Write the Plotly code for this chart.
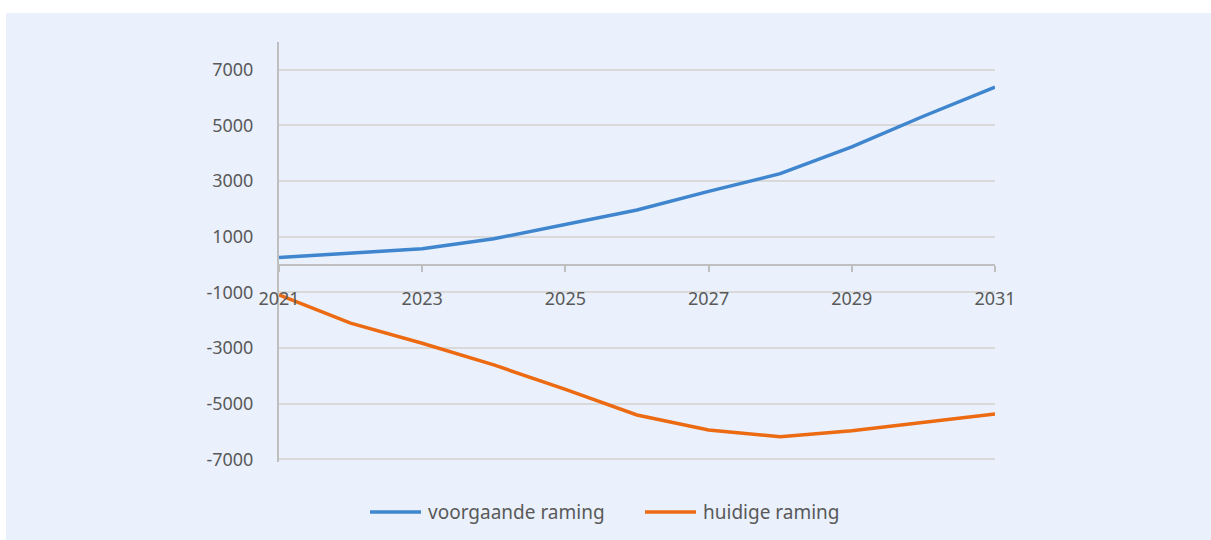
import plotly.graph_objects as go

years = [2021, 2022, 2023, 2024, 2025, 2026, 2027, 2028, 2029, 2030, 2031]
voorgaande = [252, 410, 565, 925, 1455, 1960, 2630, 3265, 4227, 5330, 6375]
huidige = [-1090, -2110, -2830, -3610, -4490, -5410, -5950, -6190, -5975, -5690, -5375]
series_names = ["voorgaande raming", "huidige raming"]
series_colors = ["#3F86CE", "#EC6A12"]
x_ticks = [2021, 2023, 2025, 2027, 2029, 2031]
y_ticks = [-7000, -5000, -3000, -1000, 1000, 3000, 5000, 7000]

W, H = 1211, 540
L, R, T, B = 279, 216, 42, 78
pw, ph = W - L - R, H - T - B
ymin, ymax = -7100, 8000

fig = go.Figure()
for name, vals, col in zip(series_names, [voorgaande, huidige], series_colors):
    fig.add_trace(go.Scatter(x=years, y=vals, mode="lines", name=name,
                             line=dict(color=col, width=3.5), showlegend=False))

font = dict(family="Noto Sans, Open Sans, sans-serif", size=18, color="#595959")

fig.update_layout(
    width=W, height=H,
    margin=dict(l=L, r=R, t=T, b=B),
    paper_bgcolor="white",
    plot_bgcolor="rgba(0,0,0,0)",
    font=font,
    xaxis=dict(range=[2021, 2031], tickvals=x_ticks, ticktext=[str(t) for t in x_ticks],
               showgrid=False, zeroline=False, showline=True, linecolor="#BFBFBF", linewidth=2,
               ticks="outside", ticklen=6, tickcolor="#BFBFBF", tickwidth=2,
               anchor="free", position=(0 - ymin) / (ymax - ymin),
               ticklabelstandoff=12, tickfont=dict(size=18, color="#595959")),
    yaxis=dict(range=[ymin, ymax], tickvals=y_ticks, ticktext=[str(t) for t in y_ticks],
               showgrid=True, gridcolor="#D9D9D9", gridwidth=1.5, zeroline=False,
               showline=True, linecolor="#BFBFBF", linewidth=2, ticks="",
               ticklabelstandoff=20, tickfont=dict(size=18, color="#595959")),
)

# light blue background panel
fig.add_shape(type="rect", xref="paper", yref="paper", layer="below",
              x0=(6 - L) / pw, x1=(W - L) / pw + 0.01,
              y0=-(B + 2) / ph, y1=1 + (T - 13) / ph,
              fillcolor="#EAF1FD", line=dict(width=0))

# legend (drawn manually for Excel-like long line samples)
legend_y = -(512 - (H - B)) / ph
legend_x = [(370, 421, 426), (645, 696, 701)]
for (lx0, lx1, tx), name, col in zip(legend_x, series_names, series_colors):
    fig.add_shape(type="line", xref="paper", yref="paper",
                  x0=(lx0 - L) / pw, x1=(lx1 - L) / pw, y0=legend_y, y1=legend_y,
                  line=dict(color=col, width=3.5))
    fig.add_annotation(xref="paper", yref="paper", x=(tx - L) / pw, y=legend_y,
                       text=name, showarrow=False, xanchor="left", yanchor="middle",
                       font=dict(size=19, color="#595959"))

fig.write_html("out.html", config={"displayModeBar": False},
               post_script="document.body.style.margin='0';document.body.style.overflow='hidden';")
